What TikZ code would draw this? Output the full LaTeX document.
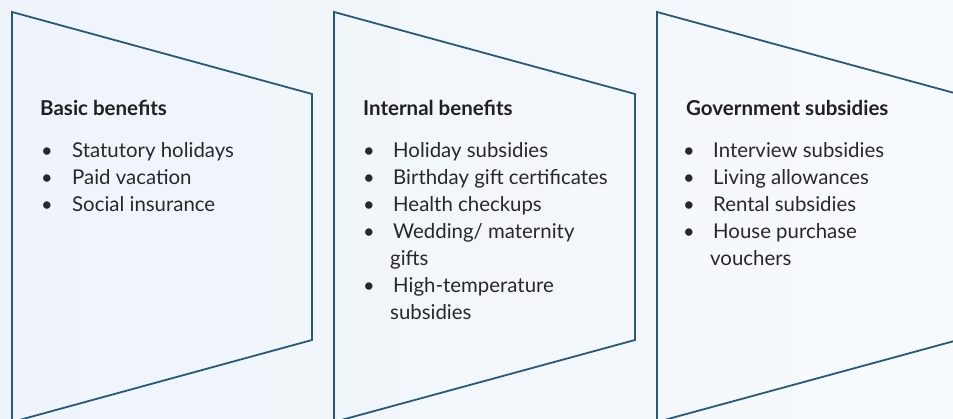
\documentclass[tikz,border=0pt]{standalone}
\usepackage{fontspec}
\setmainfont{Lato}
\definecolor{bgL}{RGB}{238,244,250}
\definecolor{bgR}{RGB}{247,250,253}
\definecolor{frameC}{RGB}{38,90,124}
\definecolor{ink}{RGB}{40,40,42}
\begin{document}
\begin{tikzpicture}[x=1pt,y=-1pt,
  frame/.style={draw=frameC,line width=1.8pt,line join=miter},
  title/.style={font=\fontsize{20.5}{22}\selectfont\bfseries,anchor=base west,inner sep=0pt,text=ink!80!black},
  item/.style={font=\fontsize{20.4}{22}\selectfont,anchor=base west,inner sep=0pt,text=ink},
  dot/.style={font=\fontsize{20}{22}\selectfont,anchor=base,inner sep=0pt,text=ink}]
\useasboundingbox (0,0) rectangle (953,419);
\shade[left color=bgL,right color=bgR] (0,0) rectangle (953,419);
\begin{scope}
\clip (0,0) rectangle (953,419);
\draw[frame] (12,12) -- (312,94) -- (312,340) -- (12,422) -- cycle;
\draw[frame] (334,12) -- (635,94) -- (635,340) -- (334,422) -- cycle;
\draw[frame] (657,12) -- (958,94) -- (958,340) -- (657,422) -- cycle;
\end{scope}
% column 1
\node[title] (t1) at (40,116) {Basic benefits};
\node[dot] (b11) at (47,158) {•};
\node[item] (i11) at (72,158) {Statutory holidays};
\node[dot] (b12) at (47,185) {•};
\node[item] (i12) at (72,185) {Paid vacation};
\node[dot] (b13) at (47,212) {•};
\node[item] (i13) at (72,212) {Social insurance};
% column 2
\node[title] (t2) at (363,116) {Internal benefits};
\node[dot] (b21) at (369,158) {•};
\node[item] (i21) at (393,158) {Holiday subsidies};
\node[dot] (b22) at (369,185) {•};
\node[item] (i22) at (393,185) {Birthday gift certificates};
\node[dot] (b23) at (369,212) {•};
\node[item] (i23) at (393,212) {Health checkups};
\node[dot] (b24) at (369,239) {•};
\node[item] (i24) at (393,239) {Wedding/ maternity};
\node[item] (i24b) at (390,266) {gifts};
\node[dot] (b25) at (369,293) {•};
\node[item] (i25) at (393,293) {High-temperature};
\node[item] (i25b) at (390,320) {subsidies};
% column 3
\node[title] (t3) at (686,116) {Government subsidies};
\node[dot] (b31) at (689,158) {•};
\node[item] (i31) at (713,158) {Interview subsidies};
\node[dot] (b32) at (689,185) {•};
\node[item] (i32) at (713,185) {Living allowances};
\node[dot] (b33) at (689,212) {•};
\node[item] (i33) at (713,212) {Rental subsidies};
\node[dot] (b34) at (689,239) {•};
\node[item] (i34) at (713,239) {House purchase};
\node[item] (i34b) at (710,266) {vouchers};
\end{tikzpicture}
\end{document}
